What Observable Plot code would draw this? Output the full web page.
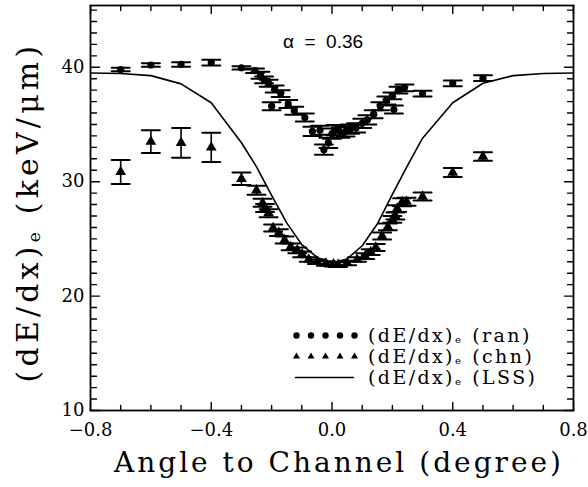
<!DOCTYPE html>
<html><head><meta charset="utf-8">
<script src="https://cdn.jsdelivr.net/npm/d3@7"></script>
<script src="https://cdn.jsdelivr.net/npm/@observablehq/plot@0.6"></script>
<style>
body{margin:0;background:#fff}
#chart{position:relative;width:588px;height:487px}
</style>
</head><body><div id="chart"></div>
<script>
// ---- data ----
const ranX   = [-0.7,-0.6,-0.5,-0.4,-0.3,-0.255,-0.237,-0.225,-0.21,-0.19,-0.17,-0.2,-0.145,-0.125,-0.09,-0.065,-0.04,-0.027,-0.012,0.0,0.012,0.028,0.045,0.06,0.08,0.1,0.117,0.138,0.16,0.18,0.205,0.2,0.22,0.24,0.3,0.4,0.5];
const ranY   = [39.8,40.2,40.25,40.4,39.95,39.7,39.3,38.9,38.6,38.1,37.7,36.6,36.8,36.2,35.6,34.4,34.5,32.8,33.4,34.2,34.5,34.3,34.4,34.6,34.7,35.1,35.4,35.9,36.6,37.1,36.3,37.5,38.0,38.2,37.7,38.6,39.05];
const ranErr = [0.15,0.15,0.2,0.25,0.15,0.2,0.3,0.3,0.3,0.3,0.3,0.35,0.35,0.35,0.35,0.4,0.4,0.45,0.45,0.45,0.45,0.45,0.45,0.4,0.4,0.4,0.4,0.35,0.35,0.35,0.35,0.3,0.3,0.3,0.25,0.25,0.25];

const chnX   = [-0.7,-0.6,-0.5,-0.4,-0.3,-0.25,-0.23,-0.222,-0.21,-0.195,-0.176,-0.157,-0.137,-0.115,-0.099,-0.077,-0.05,-0.02,0.005,0.02,0.05,0.083,0.11,0.128,0.145,0.166,0.185,0.2,0.21,0.216,0.232,0.247,0.3,0.4,0.5];
const chnY   = [30.85,33.5,33.4,33.0,30.25,29.25,28.15,27.7,27.25,25.95,25.55,24.9,24.3,24.0,23.65,23.2,23.0,22.85,22.78,22.75,22.9,23.2,23.5,23.85,24.25,25.25,26.05,26.7,27.0,27.65,28.2,28.25,28.7,30.8,32.2];
const chnErr = [1.05,1.0,1.3,1.27,0.55,0.4,0.35,0.35,0.35,0.3,0.3,0.3,0.3,0.25,0.25,0.2,0.2,0.2,0.2,0.2,0.2,0.2,0.25,0.25,0.3,0.3,0.3,0.3,0.3,0.3,0.35,0.35,0.35,0.4,0.37];

const lssX = [-0.8,-0.7,-0.6,-0.5,-0.4,-0.3,-0.25,-0.2,-0.15,-0.1,-0.05,0.0,0.05,0.1,0.15,0.2,0.25,0.3,0.4,0.5,0.6,0.7,0.8];
const lssY = [39.5,39.45,39.27,38.55,36.9,33.4,31.3,28.8,26.4,24.5,23.4,22.85,23.25,24.4,26.3,28.9,31.4,33.8,36.9,38.6,39.27,39.45,39.5];

const xTicks      = [-0.8,-0.4,0.0,0.4,0.8];
const xTickLabels = ["\u22120.8","\u22120.4","0.0","0.4","0.8"];
const xMinorTicks = [-0.7,-0.6,-0.5,-0.3,-0.2,-0.1,0.1,0.2,0.3,0.5,0.6,0.7];
const yTicks      = [10,20,30,40];
const yTickLabels = ["10","20","30","40"];
const yMinorTicks = [11,12,13,14,15,16,17,18,19,21,22,23,24,25,26,27,28,29,31,32,33,34,35,36,37,38,39,41,42,43,44,45];

const seriesNames = ["ran","chn","LSS"];
const alphaLabel = "\u03b1\u00a0\u00a0=\u00a0\u00a00.36";

// ---- tables ----
const ran = ranX.map((x,i)=>({x, y:ranY[i], e:ranErr[i]}));
const chn = chnX.map((x,i)=>({x, y:chnY[i], e:chnErr[i]}));
const lss = lssX.map((x,i)=>({x, y:lssY[i]}));

const tickShape = {draw(ctx, l){ ctx.moveTo(0,0); ctx.lineTo(0,-l); }};

function errMarks(data, capLen){
  return [
    Plot.ruleX(data, {x:"x", y1:d=>d.y-d.e, y2:d=>d.y+d.e, strokeWidth:1.6}),
    Plot.vector(data, {x:"x", y:d=>d.y+d.e, rotate:90, length:capLen, anchor:"middle", shape:tickShape, strokeWidth:2}),
    Plot.vector(data, {x:"x", y:d=>d.y-d.e, rotate:90, length:capLen, anchor:"middle", shape:tickShape, strokeWidth:2})
  ];
}

function tickMarks(vals, axis, len){
  const w = 1.4;
  if (axis === "x") return [
    Plot.vector(vals, {x:d=>d, frameAnchor:"bottom", rotate:0, length:len, anchor:"start", shape:tickShape, strokeWidth:w}),
    Plot.vector(vals, {x:d=>d, frameAnchor:"top", rotate:180, length:len, anchor:"start", shape:tickShape, strokeWidth:w})
  ];
  return [
    Plot.vector(vals, {y:d=>d, frameAnchor:"left", rotate:90, length:len, anchor:"start", shape:tickShape, strokeWidth:w}),
    Plot.vector(vals, {y:d=>d, frameAnchor:"right", rotate:-90, length:len, anchor:"start", shape:tickShape, strokeWidth:w})
  ];
}

// legend symbols (anchored to the frame's bottom-right corner)
const legendDx = [-277,-262.5,-248,-233.5,-219];
const legendMarks = [];
legendDx.forEach(dx=>{
  legendMarks.push(Plot.dot([0], {frameAnchor:"bottom-right", dx, dy:-75, r:3.2, fill:"black", stroke:"none"}));
  legendMarks.push(Plot.dot([0], {frameAnchor:"bottom-right", dx, dy:-54, r:2.6, symbol:"triangle", fill:"black", stroke:"none"}));
});
legendMarks.push(Plot.vector([0], {frameAnchor:"bottom-right", dx:-278, dy:-33, rotate:90, length:58, anchor:"start", shape:tickShape, strokeWidth:1.5}));

const chart = Plot.plot({
  width:588, height:487,
  marginLeft:90, marginRight:15, marginTop:5, marginBottom:77,
  x:{domain:[-0.8,0.8]},
  y:{domain:[10,45.4]},
  style:{fontFamily:"DejaVu Serif", fontSize:"18px", background:"white", color:"black"},
  marks:[
    ...tickMarks(xMinorTicks, "x", 5),
    ...tickMarks(xTicks, "x", 8),
    ...tickMarks(yMinorTicks, "y", 6),
    ...tickMarks(yTicks, "y", 9),
    Plot.axisX(xTicks, {tickSize:0, tickPadding:13, label:null, tickFormat:d=>xTickLabels[xTicks.indexOf(d)]}),
    Plot.axisY(yTicks, {tickSize:0, tickPadding:6, label:null, tickFormat:d=>yTickLabels[yTicks.indexOf(d)]}),
    Plot.line(lss, {x:"x", y:"y", strokeWidth:1.6}),
    ...errMarks(ran, 18),
    ...errMarks(chn, 18),
    Plot.dot(ran, {x:"x", y:"y", r:3.6, fill:"black", stroke:"none"}),
    Plot.dot(chn, {x:"x", y:"y", r:4, symbol:"triangle", fill:"black", stroke:"none"}),
    Plot.text([alphaLabel], {frameAnchor:"top", dx:-9, dy:29, text:d=>d, fontFamily:"Liberation Sans", fontSize:19}),
    ...legendMarks,
    Plot.frame({strokeWidth:1.8})
  ]
});
document.getElementById("chart").appendChild(chart);

// ---- axis titles & legend text (real text with subscripts) ----
const svg = d3.select(chart.tagName.toLowerCase()==="svg" ? chart : chart.querySelector("svg"));

const yl = svg.append("text")
  .attr("transform","translate(27,212) rotate(-90)")
  .attr("text-anchor","middle").attr("dominant-baseline","central")
  .attr("font-family","DejaVu Serif").attr("font-size",30).attr("letter-spacing",4.2).attr("fill","black");
yl.append("tspan").text("(dE/dx)");
yl.append("tspan").attr("font-size",17).attr("dy",7).text("e");
yl.append("tspan").attr("dy",-7).text(" (keV/\u03bcm)");

svg.append("text")
  .attr("x",339).attr("y",472)
  .attr("text-anchor","middle")
  .attr("font-family","DejaVu Serif").attr("font-size",28).attr("letter-spacing",3).attr("fill","black")
  .text("Angle to Channel (degree)");

const legY = [335,356,377];
seriesNames.forEach((name,i)=>{
  const t = svg.append("text")
    .attr("x",368).attr("y",legY[i]).attr("dominant-baseline","central")
    .attr("text-anchor","start")
    .attr("font-family","DejaVu Serif").attr("font-size",19).attr("letter-spacing",2.4).attr("fill","black");
  t.append("tspan").text("(dE/dx)");
  t.append("tspan").attr("font-size",10).attr("dy",4).text("e");
  t.append("tspan").attr("dy",-4).attr("dx",9).text("(" + name + ")");
});
</script>
</body></html>
